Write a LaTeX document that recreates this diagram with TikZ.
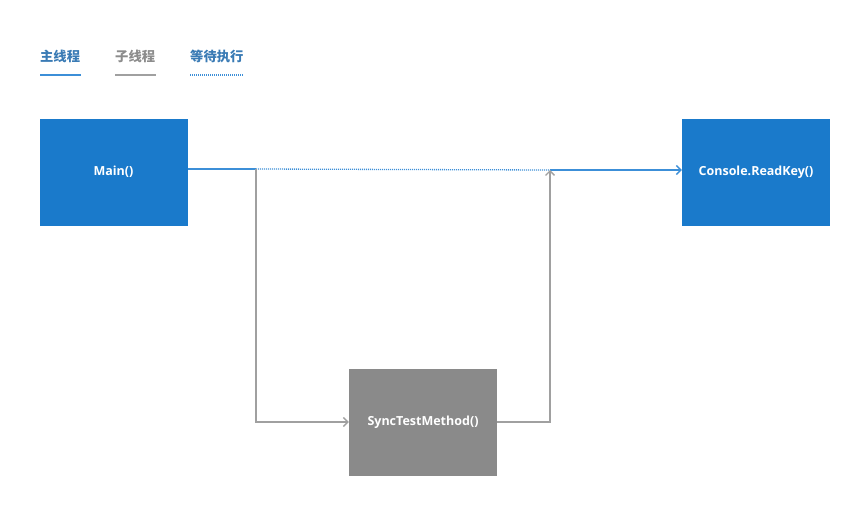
\documentclass[tikz,border=0pt]{standalone}
\usepackage{fontspec}
\setmainfont{Open Sans}
\newfontfamily\cjk{Noto Sans CJK SC}
\usetikzlibrary{arrows.meta}
\definecolor{boxblue}{HTML}{1A7ACB}
\definecolor{boxgray}{HTML}{8A8A8A}
\definecolor{lineblue}{HTML}{3C8FD8}
\definecolor{linegray}{HTML}{A0A0A0}
\definecolor{legblue}{HTML}{3A7BB5}
\definecolor{leggray}{HTML}{8C8C8C}
\tikzset{
  blk/.style={draw=none, minimum width=148pt, minimum height=107pt, inner sep=0pt,
    text=white, font=\fontsize{12.5}{15}\selectfont\bfseries},
  mainln/.style={lineblue, line width=1.3pt},
  subln/.style={linegray, line width=1.3pt},
  waitln/.style={lineblue, line width=1.3pt, dash pattern=on 1pt off 1pt},
  tip/.style={-{Straight Barb[length=4.5pt,width=9pt]}},
  leg/.style={font=\cjk\fontsize{13.3}{16}\selectfont\bfseries, anchor=west, inner sep=0pt}
}
\begin{document}
\begin{tikzpicture}[x=1pt,y=-1pt]
\useasboundingbox[fill=white] (0,0) rectangle (860,517);
% legend
\node[leg, text=legblue] (l1) at (40,56) {主线程};
\node[leg, text=leggray] (l2) at (115,56) {子线程};
\node[leg, text=legblue] (l3) at (190,56) {等待执行};
\draw[mainln, line width=1.8pt] (40,75) -- (81,75);
\draw[subln, line width=1.8pt] (115,75) -- (156,75);
\draw[waitln] (190,75) -- (244,75);
% boxes
\node[blk, fill=boxblue] (main) at (113.5,172) {Main()};
\node[blk, fill=boxblue] (console) at (756,172) {Console.ReadKey()};
\node[blk, fill=boxgray] (sync) at (423,422.5) {SyncTestMethod()};
% coordinates
\coordinate (split) at (256,169);
\coordinate (join) at (550,170);
\coordinate (down) at (256,422);
\coordinate (up) at (550,422);
% connectors
\draw[mainln] (main.east |- split) -- (split);
\draw[waitln] (split) -- (join);
\draw[mainln, tip] (join) -- (console.west |- join);
\draw[subln, tip] (split) -- (down) -- (sync.west |- down);
\draw[subln, tip] (sync.east |- up) -- (up) -- (join);
\end{tikzpicture}
\end{document}
